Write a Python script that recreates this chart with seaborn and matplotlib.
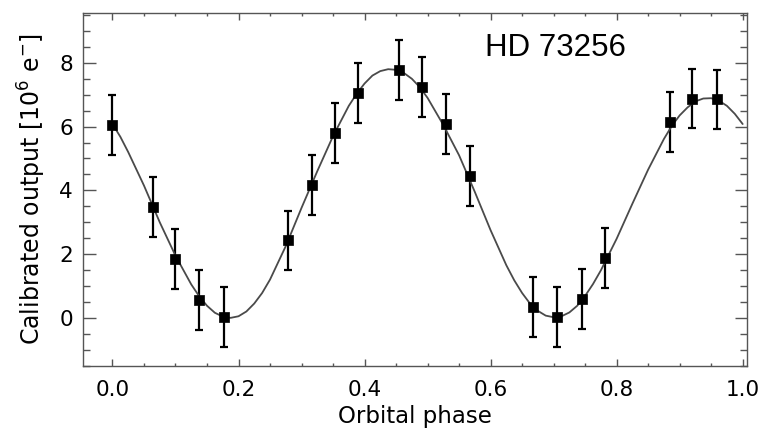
"""Phase-folded light curve of HD 73256 with fitted model."""

import matplotlib.pyplot as plt
import pandas as pd
import seaborn as sns
from matplotlib.ticker import MultipleLocator

# measured points (orbital phase, output in 1e6 e-, 1-sigma error)
phase = [0.000, 0.064, 0.100, 0.138, 0.177, 0.279, 0.316, 0.353, 0.390, 0.455,
         0.491, 0.530, 0.567, 0.668, 0.706, 0.745, 0.782, 0.885, 0.920, 0.959]
output = [6.05, 3.48, 1.84, 0.57, 0.02, 2.43, 4.16, 5.80, 7.04, 7.78,
          7.23, 6.08, 4.45, 0.34, 0.02, 0.58, 1.89, 6.15, 6.88, 6.85]
error = [0.94, 0.93, 0.94, 0.94, 0.94, 0.93, 0.94, 0.94, 0.94, 0.94,
         0.94, 0.93, 0.94, 0.94, 0.94, 0.94, 0.94, 0.94, 0.94, 0.94]

# fitted model curve
model_phase = [0.0000, 0.0125, 0.0250, 0.0500, 0.0750, 0.1000, 0.1250, 0.1375,
               0.1500, 0.1625, 0.1750, 0.1875, 0.2000, 0.2125, 0.2250, 0.2375,
               0.2500, 0.2750, 0.3000, 0.3250, 0.3500, 0.3750, 0.3875, 0.4000,
               0.4125, 0.4250, 0.4375, 0.4500, 0.4625, 0.4750, 0.4875, 0.5000,
               0.5250, 0.5500, 0.5750, 0.6000, 0.6250, 0.6375, 0.6500, 0.6625,
               0.6750, 0.6875, 0.7000, 0.7125, 0.7250, 0.7375, 0.7500, 0.7625,
               0.7750, 0.8000, 0.8250, 0.8500, 0.8750, 0.8875, 0.9000, 0.9125,
               0.9250, 0.9375, 0.9500, 0.9625, 0.9750, 0.9875, 1.0000]
model_output = [6.08, 5.68, 5.20, 4.15, 3.00, 1.95, 1.05, 0.68,
                0.38, 0.16, 0.04, 0.00, 0.05, 0.20, 0.45, 0.78,
                1.20, 2.25, 3.45, 4.60, 5.70, 6.65, 7.03, 7.35,
                7.60, 7.74, 7.80, 7.78, 7.68, 7.50, 7.24, 6.90,
                6.05, 5.10, 3.95, 2.75, 1.65, 1.18, 0.78, 0.45,
                0.22, 0.07, 0.02, 0.05, 0.17, 0.38, 0.69, 1.06,
                1.49, 2.48, 3.58, 4.65, 5.61, 6.02, 6.35, 6.60,
                6.79, 6.88, 6.89, 6.81, 6.65, 6.40, 6.08]

points = pd.DataFrame({"phase": phase, "output": output, "error": error})
model = pd.DataFrame({"phase": model_phase, "output": model_output})

sns.set_style("ticks")
plt.rcParams["font.family"] = ["DejaVu Sans"]
plt.rcParams["text.color"] = "black"
plt.rcParams["axes.labelcolor"] = "black"

fig = plt.figure(figsize=(7.6, 4.32), dpi=100)
ax = fig.add_axes([0.109, 0.1535, 0.874, 0.8155])

sns.lineplot(data=model, x="phase", y="output", ax=ax, color="#4a4a4a",
             linewidth=1.3, zorder=3)
ax.errorbar(points["phase"], points["output"], yerr=points["error"],
            fmt="none", ecolor="black", elinewidth=1.6, capsize=3,
            capthick=1.6, zorder=2)
sns.scatterplot(data=points, x="phase", y="output", ax=ax, marker="s",
                s=55, color="black", edgecolor="black", linewidth=0.5,
                zorder=4)

ax.set_xlim(-0.047, 1.007)
ax.set_ylim(-1.5, 9.55)
ax.xaxis.set_major_locator(MultipleLocator(0.2))
ax.xaxis.set_minor_locator(MultipleLocator(0.05))
ax.yaxis.set_major_locator(MultipleLocator(2))
ax.yaxis.set_minor_locator(MultipleLocator(0.5))
ax.xaxis.set_major_formatter(plt.FormatStrFormatter("%.1f"))

ax.tick_params(which="both", direction="in", top=True, right=True,
               color="#555555", width=1.0, labelcolor="black")
ax.tick_params(axis="x", which="major", length=5, labelsize=15.5, pad=10)
ax.tick_params(axis="x", which="minor", length=2.5)
ax.tick_params(axis="y", which="major", length=9, labelsize=15.5, pad=7)
ax.tick_params(axis="y", which="minor", length=5)
for spine in ax.spines.values():
    spine.set_color("#555555")
    spine.set_linewidth(1.0)

ax.set_xlabel("Orbital phase", fontsize=16.5, labelpad=4)
ax.set_ylabel(r"Calibrated output [10$^6$ e$^{-}$]", fontsize=17, labelpad=8)
ax.text(0.605, 0.902, "HD 73256", transform=ax.transAxes, fontsize=22.5,
        family="Liberation Sans", va="center", ha="left")

fig.savefig("out.png", dpi=100)
